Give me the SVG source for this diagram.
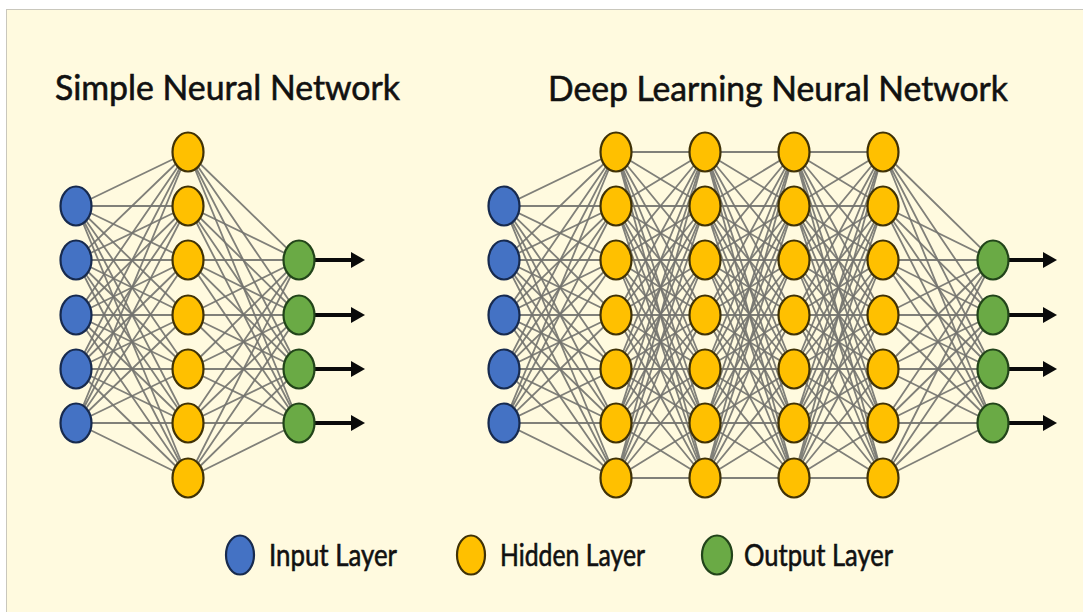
<svg xmlns="http://www.w3.org/2000/svg" width="1083" height="612" viewBox="0 0 1083 612">
<style>
.bg{fill:#FFFADF;stroke:#C9C7BC;stroke-width:1}
.t{font-family:Lato,"Liberation Sans",sans-serif;fill:#111111;stroke:#111111;stroke-width:0.6}
.title{font-size:35px}
.leg{font-size:30px}
.c path{fill:none;stroke:#72726E;stroke-width:1.8;stroke-opacity:0.9}
.in{fill:#4472C4;stroke:#172A4E;stroke-width:2.2}
.hid{fill:#FFC000;stroke:#403206;stroke-width:2.2}
.out{fill:#6AAA45;stroke:#22441A;stroke-width:2.2}
.arr{stroke:#0A0A0A;stroke-width:4;fill:none}
</style>
<defs>
<marker id="ah" markerUnits="userSpaceOnUse" markerWidth="16" markerHeight="18" refX="1" refY="8" orient="auto">
<path d="M0,0 L14,8 L0,16 z" fill="#0A0A0A"/>
</marker>
</defs>
<rect x="0" y="0" width="1083" height="612" fill="#FFFFFF"/>
<rect class="bg" x="6.5" y="9.5" width="1090" height="620"/>

<text class="t title" x="55" y="100" textLength="345" lengthAdjust="spacingAndGlyphs">Simple Neural Network</text>
<text class="t title" x="548" y="101" textLength="460" lengthAdjust="spacingAndGlyphs">Deep Learning Neural Network</text>

<g id="connectors" class="c">
<!-- simple: input -> hidden -->
<path d="M76 206L188 152M76 206L188 206M76 206L188 260M76 206L188 315M76 206L188 369M76 206L188 423M76 206L188 478"/>
<path d="M76 260L188 152M76 260L188 206M76 260L188 260M76 260L188 315M76 260L188 369M76 260L188 423M76 260L188 478"/>
<path d="M76 315L188 152M76 315L188 206M76 315L188 260M76 315L188 315M76 315L188 369M76 315L188 423M76 315L188 478"/>
<path d="M76 369L188 152M76 369L188 206M76 369L188 260M76 369L188 315M76 369L188 369M76 369L188 423M76 369L188 478"/>
<path d="M76 423L188 152M76 423L188 206M76 423L188 260M76 423L188 315M76 423L188 369M76 423L188 423M76 423L188 478"/>
<!-- simple: hidden -> output -->
<path d="M188 152L299 260M188 152L299 315M188 152L299 369M188 152L299 423"/>
<path d="M188 206L299 260M188 206L299 315M188 206L299 369M188 206L299 423"/>
<path d="M188 260L299 260M188 260L299 315M188 260L299 369M188 260L299 423"/>
<path d="M188 315L299 260M188 315L299 315M188 315L299 369M188 315L299 423"/>
<path d="M188 369L299 260M188 369L299 315M188 369L299 369M188 369L299 423"/>
<path d="M188 423L299 260M188 423L299 315M188 423L299 369M188 423L299 423"/>
<path d="M188 478L299 260M188 478L299 315M188 478L299 369M188 478L299 423"/>
<!-- deep: input -> H1 -->
<path d="M504 206L616 152M504 206L616 206M504 206L616 260M504 206L616 315M504 206L616 369M504 206L616 423M504 206L616 478"/>
<path d="M504 260L616 152M504 260L616 206M504 260L616 260M504 260L616 315M504 260L616 369M504 260L616 423M504 260L616 478"/>
<path d="M504 315L616 152M504 315L616 206M504 315L616 260M504 315L616 315M504 315L616 369M504 315L616 423M504 315L616 478"/>
<path d="M504 369L616 152M504 369L616 206M504 369L616 260M504 369L616 315M504 369L616 369M504 369L616 423M504 369L616 478"/>
<path d="M504 423L616 152M504 423L616 206M504 423L616 260M504 423L616 315M504 423L616 369M504 423L616 423M504 423L616 478"/>
<!-- deep: H1 -> H2 -->
<path d="M616 152L705 152M616 152L705 206M616 152L705 260M616 152L705 315M616 152L705 369M616 152L705 423M616 152L705 478"/>
<path d="M616 206L705 152M616 206L705 206M616 206L705 260M616 206L705 315M616 206L705 369M616 206L705 423M616 206L705 478"/>
<path d="M616 260L705 152M616 260L705 206M616 260L705 260M616 260L705 315M616 260L705 369M616 260L705 423M616 260L705 478"/>
<path d="M616 315L705 152M616 315L705 206M616 315L705 260M616 315L705 315M616 315L705 369M616 315L705 423M616 315L705 478"/>
<path d="M616 369L705 152M616 369L705 206M616 369L705 260M616 369L705 315M616 369L705 369M616 369L705 423M616 369L705 478"/>
<path d="M616 423L705 152M616 423L705 206M616 423L705 260M616 423L705 315M616 423L705 369M616 423L705 423M616 423L705 478"/>
<path d="M616 478L705 152M616 478L705 206M616 478L705 260M616 478L705 315M616 478L705 369M616 478L705 423M616 478L705 478"/>
<!-- deep: H2 -> H3 -->
<path d="M705 152L794 152M705 152L794 206M705 152L794 260M705 152L794 315M705 152L794 369M705 152L794 423M705 152L794 478"/>
<path d="M705 206L794 152M705 206L794 206M705 206L794 260M705 206L794 315M705 206L794 369M705 206L794 423M705 206L794 478"/>
<path d="M705 260L794 152M705 260L794 206M705 260L794 260M705 260L794 315M705 260L794 369M705 260L794 423M705 260L794 478"/>
<path d="M705 315L794 152M705 315L794 206M705 315L794 260M705 315L794 315M705 315L794 369M705 315L794 423M705 315L794 478"/>
<path d="M705 369L794 152M705 369L794 206M705 369L794 260M705 369L794 315M705 369L794 369M705 369L794 423M705 369L794 478"/>
<path d="M705 423L794 152M705 423L794 206M705 423L794 260M705 423L794 315M705 423L794 369M705 423L794 423M705 423L794 478"/>
<path d="M705 478L794 152M705 478L794 206M705 478L794 260M705 478L794 315M705 478L794 369M705 478L794 423M705 478L794 478"/>
<!-- deep: H3 -> H4 -->
<path d="M794 152L883 152M794 152L883 206M794 152L883 260M794 152L883 315M794 152L883 369M794 152L883 423M794 152L883 478"/>
<path d="M794 206L883 152M794 206L883 206M794 206L883 260M794 206L883 315M794 206L883 369M794 206L883 423M794 206L883 478"/>
<path d="M794 260L883 152M794 260L883 206M794 260L883 260M794 260L883 315M794 260L883 369M794 260L883 423M794 260L883 478"/>
<path d="M794 315L883 152M794 315L883 206M794 315L883 260M794 315L883 315M794 315L883 369M794 315L883 423M794 315L883 478"/>
<path d="M794 369L883 152M794 369L883 206M794 369L883 260M794 369L883 315M794 369L883 369M794 369L883 423M794 369L883 478"/>
<path d="M794 423L883 152M794 423L883 206M794 423L883 260M794 423L883 315M794 423L883 369M794 423L883 423M794 423L883 478"/>
<path d="M794 478L883 152M794 478L883 206M794 478L883 260M794 478L883 315M794 478L883 369M794 478L883 423M794 478L883 478"/>
<!-- deep: H4 -> output -->
<path d="M883 152L993 260M883 152L993 315M883 152L993 369M883 152L993 423"/>
<path d="M883 206L993 260M883 206L993 315M883 206L993 369M883 206L993 423"/>
<path d="M883 260L993 260M883 260L993 315M883 260L993 369M883 260L993 423"/>
<path d="M883 315L993 260M883 315L993 315M883 315L993 369M883 315L993 423"/>
<path d="M883 369L993 260M883 369L993 315M883 369L993 369M883 369L993 423"/>
<path d="M883 423L993 260M883 423L993 315M883 423L993 369M883 423L993 423"/>
<path d="M883 478L993 260M883 478L993 315M883 478L993 369M883 478L993 423"/>
</g>

<g id="output-arrows">
<line class="arr" x1="314" y1="260" x2="352" y2="260" marker-end="url(#ah)"/>
<line class="arr" x1="314" y1="315" x2="352" y2="315" marker-end="url(#ah)"/>
<line class="arr" x1="314" y1="369" x2="352" y2="369" marker-end="url(#ah)"/>
<line class="arr" x1="314" y1="423" x2="352" y2="423" marker-end="url(#ah)"/>
<line class="arr" x1="1008" y1="260" x2="1044" y2="260" marker-end="url(#ah)"/>
<line class="arr" x1="1008" y1="315" x2="1044" y2="315" marker-end="url(#ah)"/>
<line class="arr" x1="1008" y1="369" x2="1044" y2="369" marker-end="url(#ah)"/>
<line class="arr" x1="1008" y1="423" x2="1044" y2="423" marker-end="url(#ah)"/>
</g>

<!-- simple network nodes -->
<g id="s-in-1"><ellipse class="in" cx="76" cy="206" rx="15.5" ry="19.5"/></g>
<g id="s-in-2"><ellipse class="in" cx="76" cy="260" rx="15.5" ry="19.5"/></g>
<g id="s-in-3"><ellipse class="in" cx="76" cy="315" rx="15.5" ry="19.5"/></g>
<g id="s-in-4"><ellipse class="in" cx="76" cy="369" rx="15.5" ry="19.5"/></g>
<g id="s-in-5"><ellipse class="in" cx="76" cy="423" rx="15.5" ry="19.5"/></g>
<g id="s-h-1"><ellipse class="hid" cx="188" cy="152" rx="15.5" ry="19.5"/></g>
<g id="s-h-2"><ellipse class="hid" cx="188" cy="206" rx="15.5" ry="19.5"/></g>
<g id="s-h-3"><ellipse class="hid" cx="188" cy="260" rx="15.5" ry="19.5"/></g>
<g id="s-h-4"><ellipse class="hid" cx="188" cy="315" rx="15.5" ry="19.5"/></g>
<g id="s-h-5"><ellipse class="hid" cx="188" cy="369" rx="15.5" ry="19.5"/></g>
<g id="s-h-6"><ellipse class="hid" cx="188" cy="423" rx="15.5" ry="19.5"/></g>
<g id="s-h-7"><ellipse class="hid" cx="188" cy="478" rx="15.5" ry="19.5"/></g>
<g id="s-out-1"><ellipse class="out" cx="299" cy="260" rx="15.5" ry="19.5"/></g>
<g id="s-out-2"><ellipse class="out" cx="299" cy="315" rx="15.5" ry="19.5"/></g>
<g id="s-out-3"><ellipse class="out" cx="299" cy="369" rx="15.5" ry="19.5"/></g>
<g id="s-out-4"><ellipse class="out" cx="299" cy="423" rx="15.5" ry="19.5"/></g>

<!-- deep network nodes -->
<g id="d-in-1"><ellipse class="in" cx="504" cy="206" rx="15.5" ry="19.5"/></g>
<g id="d-in-2"><ellipse class="in" cx="504" cy="260" rx="15.5" ry="19.5"/></g>
<g id="d-in-3"><ellipse class="in" cx="504" cy="315" rx="15.5" ry="19.5"/></g>
<g id="d-in-4"><ellipse class="in" cx="504" cy="369" rx="15.5" ry="19.5"/></g>
<g id="d-in-5"><ellipse class="in" cx="504" cy="423" rx="15.5" ry="19.5"/></g>

<g id="d-h1-1"><ellipse class="hid" cx="616" cy="152" rx="15.5" ry="19.5"/></g>
<g id="d-h1-2"><ellipse class="hid" cx="616" cy="206" rx="15.5" ry="19.5"/></g>
<g id="d-h1-3"><ellipse class="hid" cx="616" cy="260" rx="15.5" ry="19.5"/></g>
<g id="d-h1-4"><ellipse class="hid" cx="616" cy="315" rx="15.5" ry="19.5"/></g>
<g id="d-h1-5"><ellipse class="hid" cx="616" cy="369" rx="15.5" ry="19.5"/></g>
<g id="d-h1-6"><ellipse class="hid" cx="616" cy="423" rx="15.5" ry="19.5"/></g>
<g id="d-h1-7"><ellipse class="hid" cx="616" cy="478" rx="15.5" ry="19.5"/></g>

<g id="d-h2-1"><ellipse class="hid" cx="705" cy="152" rx="15.5" ry="19.5"/></g>
<g id="d-h2-2"><ellipse class="hid" cx="705" cy="206" rx="15.5" ry="19.5"/></g>
<g id="d-h2-3"><ellipse class="hid" cx="705" cy="260" rx="15.5" ry="19.5"/></g>
<g id="d-h2-4"><ellipse class="hid" cx="705" cy="315" rx="15.5" ry="19.5"/></g>
<g id="d-h2-5"><ellipse class="hid" cx="705" cy="369" rx="15.5" ry="19.5"/></g>
<g id="d-h2-6"><ellipse class="hid" cx="705" cy="423" rx="15.5" ry="19.5"/></g>
<g id="d-h2-7"><ellipse class="hid" cx="705" cy="478" rx="15.5" ry="19.5"/></g>

<g id="d-h3-1"><ellipse class="hid" cx="794" cy="152" rx="15.5" ry="19.5"/></g>
<g id="d-h3-2"><ellipse class="hid" cx="794" cy="206" rx="15.5" ry="19.5"/></g>
<g id="d-h3-3"><ellipse class="hid" cx="794" cy="260" rx="15.5" ry="19.5"/></g>
<g id="d-h3-4"><ellipse class="hid" cx="794" cy="315" rx="15.5" ry="19.5"/></g>
<g id="d-h3-5"><ellipse class="hid" cx="794" cy="369" rx="15.5" ry="19.5"/></g>
<g id="d-h3-6"><ellipse class="hid" cx="794" cy="423" rx="15.5" ry="19.5"/></g>
<g id="d-h3-7"><ellipse class="hid" cx="794" cy="478" rx="15.5" ry="19.5"/></g>

<g id="d-h4-1"><ellipse class="hid" cx="883" cy="152" rx="15.5" ry="19.5"/></g>
<g id="d-h4-2"><ellipse class="hid" cx="883" cy="206" rx="15.5" ry="19.5"/></g>
<g id="d-h4-3"><ellipse class="hid" cx="883" cy="260" rx="15.5" ry="19.5"/></g>
<g id="d-h4-4"><ellipse class="hid" cx="883" cy="315" rx="15.5" ry="19.5"/></g>
<g id="d-h4-5"><ellipse class="hid" cx="883" cy="369" rx="15.5" ry="19.5"/></g>
<g id="d-h4-6"><ellipse class="hid" cx="883" cy="423" rx="15.5" ry="19.5"/></g>
<g id="d-h4-7"><ellipse class="hid" cx="883" cy="478" rx="15.5" ry="19.5"/></g>

<g id="d-out-1"><ellipse class="out" cx="993" cy="260" rx="15.5" ry="19.5"/></g>
<g id="d-out-2"><ellipse class="out" cx="993" cy="315" rx="15.5" ry="19.5"/></g>
<g id="d-out-3"><ellipse class="out" cx="993" cy="369" rx="15.5" ry="19.5"/></g>
<g id="d-out-4"><ellipse class="out" cx="993" cy="423" rx="15.5" ry="19.5"/></g>

<!-- legend -->
<g id="legend-input">
<ellipse class="in" cx="240" cy="555" rx="14" ry="19.5"/>
<text class="t leg" x="269" y="566" textLength="128" lengthAdjust="spacingAndGlyphs">Input Layer</text>
</g>
<g id="legend-hidden">
<ellipse class="hid" cx="471" cy="555" rx="14" ry="19.5"/>
<text class="t leg" x="500" y="566" textLength="145" lengthAdjust="spacingAndGlyphs">Hidden Layer</text>
</g>
<g id="legend-output">
<ellipse class="out" cx="717" cy="555" rx="15" ry="19.5"/>
<text class="t leg" x="744" y="566" textLength="149" lengthAdjust="spacingAndGlyphs">Output Layer</text>
</g>
</svg>
